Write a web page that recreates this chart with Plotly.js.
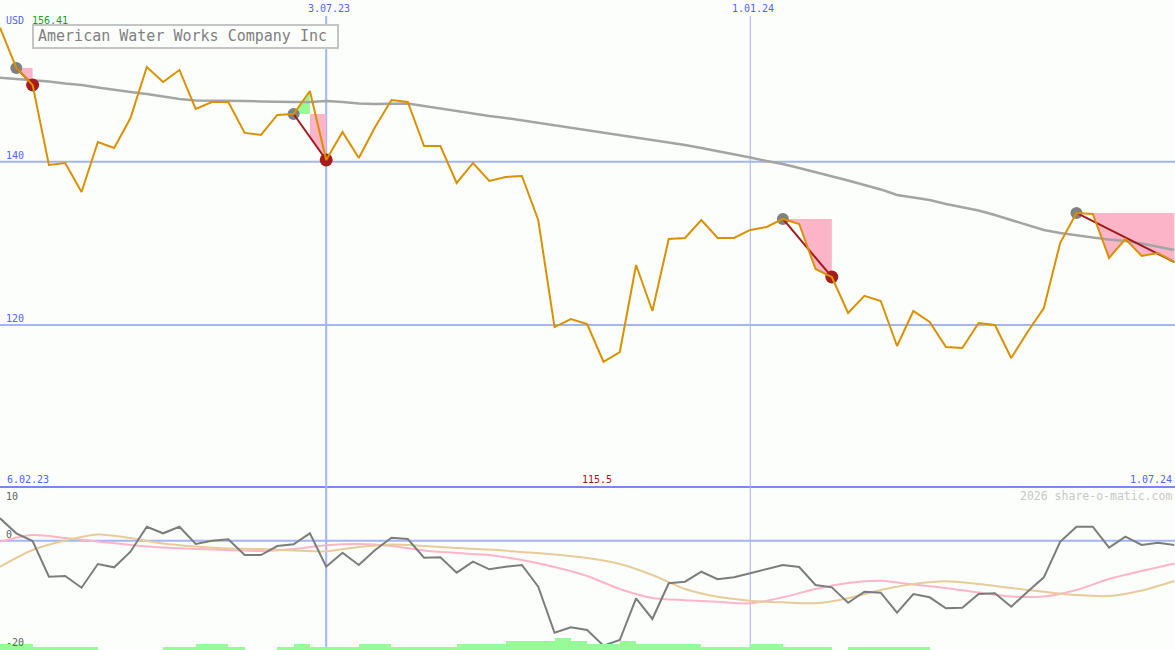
<!DOCTYPE html>
<html>
<head>
<meta charset="utf-8">
<script src="https://cdn.plot.ly/plotly-3.0.1.min.js"></script>
<style>html,body{margin:0;padding:0;background:#fcfefc;}#chart{width:1175px;height:650px;}</style>
</head>
<body>
<div id="chart"></div>
<script>
// ---- data (weekly) ----
const dates = [
 '2023-02-13','2023-02-20','2023-02-27','2023-03-06','2023-03-13','2023-03-20','2023-03-27','2023-04-03','2023-04-10','2023-04-17',
 '2023-04-24','2023-05-01','2023-05-08','2023-05-15','2023-05-22','2023-05-29','2023-06-05','2023-06-12','2023-06-19','2023-06-26',
 '2023-07-03','2023-07-10','2023-07-17','2023-07-24','2023-07-31','2023-08-07','2023-08-14','2023-08-21','2023-08-28','2023-09-04',
 '2023-09-11','2023-09-18','2023-09-25','2023-10-02','2023-10-09','2023-10-16','2023-10-23','2023-10-30','2023-11-06','2023-11-13',
 '2023-11-20','2023-11-27','2023-12-04','2023-12-11','2023-12-18','2023-12-25','2024-01-01','2024-01-08','2024-01-15','2024-01-22',
 '2024-01-29','2024-02-05','2024-02-12','2024-02-19','2024-02-26','2024-03-04','2024-03-11','2024-03-18','2024-03-25','2024-04-01',
 '2024-04-08','2024-04-15','2024-04-22','2024-04-29','2024-05-06','2024-05-13','2024-05-20','2024-05-27','2024-06-03','2024-06-10',
 '2024-06-17','2024-06-24','2024-07-01'];

const price = [
 156.41, 151.48, 149.39, 139.60, 139.84, 136.29, 142.41, 141.68, 145.35, 151.60,
 149.76, 151.23, 146.45, 147.31, 147.31, 143.52, 143.27, 145.72, 145.84, 148.66,
 140.21, 143.64, 140.45, 144.25, 147.56, 147.31, 141.92, 141.92, 137.39, 139.84,
 137.64, 138.13, 138.25, 132.86, 119.75, 120.73, 120.12, 115.50, 116.69, 127.35,
 121.71, 130.53, 130.66, 132.86, 130.66, 130.66, 131.64, 132.01, 132.99, 132.37,
 126.86, 125.88, 121.47, 123.56, 122.94, 117.43, 121.71, 120.37, 117.31, 117.19,
 120.25, 120.00, 115.96, 119.14, 122.08, 130.04, 133.72, 133.59, 128.21, 130.53,
 128.45, 128.82, 127.71];

const movingAvg = [
 150.29, 150.13, 150.01, 149.82, 149.58, 149.39, 149.09, 148.78, 148.54, 148.29,
 147.99, 147.68, 147.50, 147.50, 147.50, 147.43, 147.37, 147.31, 147.31, 147.31,
 147.43, 147.31, 147.13, 147.07, 147.13, 147.13, 146.82, 146.52, 146.21, 145.84,
 145.60, 145.35, 145.05, 144.74, 144.43, 144.13, 143.88, 143.58, 143.27, 142.96,
 142.66, 142.35, 142.05, 141.68, 141.31, 140.94, 140.51, 140.09, 139.72, 139.23,
 138.74, 138.25, 137.70, 137.15, 136.60, 135.92, 135.62, 135.31, 134.82, 134.39,
 134.02, 133.47, 132.86, 132.25, 131.63, 131.27, 130.96, 130.72, 130.47, 130.29,
 129.98, 129.61, 129.19];

const oscillator = [
 4.18, 1.38, -0.06, -6.71, -6.58, -8.76, -4.34, -4.96, -2.05, 2.61,
 1.38, 2.61, -0.62, 0.00, 0.26, -2.67, -2.67, -0.99, -0.67, 1.38,
 -4.85, -2.24, -4.53, -1.73, 0.56, 0.32, -3.17, -3.09, -5.96, -3.91,
 -5.33, -4.85, -4.53, -8.57, -17.15, -16.14, -16.64, -19.57, -18.51, -10.74,
 -14.59, -7.94, -7.64, -5.78, -7.19, -6.82, -6.08, -5.33, -4.53, -4.90,
 -8.26, -8.69, -11.56, -9.51, -9.69, -13.42, -9.93, -10.55, -12.60, -12.49,
 -9.93, -9.80, -12.30, -9.51, -6.82, -0.19, 2.61, 2.61, -1.30, 0.75,
 -0.80, -0.37, -0.80];

// smooth lines, read every second week
const pinkLine = [
 -0.19, 1.06, 0.50, -0.15, -0.80, -1.27, -1.55, -1.73, -1.92, -1.55,
 -0.86, -0.62, -0.99, -1.83, -2.29, -2.67, -3.60, -4.90, -6.58, -9.00,
 -10.68, -11.09, -11.37, -11.67, -10.55, -9.00, -7.88, -7.46, -8.16, -8.82,
 -9.66, -10.40, -10.40, -9.19, -7.14, -5.65, -4.25];
const tanLine = [
 -4.85, -1.73, 0.04, 1.16, 0.50, -0.52, -1.08, -1.45, -1.55, -1.83,
 -1.98, -1.17, -0.71, -0.99, -1.36, -1.64, -2.11, -2.57, -3.22, -4.34,
 -6.39, -9.00, -10.44, -11.17, -11.48, -11.65, -10.72, -9.19, -8.07, -7.55,
 -8.07, -8.82, -9.51, -10.12, -10.31, -9.28, -7.51];

const volumeLevels = [
 2,2,1,1,1,1,0,0,0,0,
 1,1,2,2,1,0,0,1,2,1,
 1,1,2,2,1,1,1,1,2,2,
 2,3,3,3,4,3,2,2,3,2,
 2,2,2,1,1,1,2,2,1,1,
 1,0,1,1,1,1,1,0,0,0,
 0,0,0,0,0,0,0,0,0,0,
 0,0,0];

const entryDates = ['2023-02-20','2023-06-19','2024-01-15','2024-05-20'];
const exitDates  = ['2023-02-27','2023-07-03','2024-02-05','2024-07-01'];
const exitClosed = [true, true, true, false];

const companyName = 'American Water Works Company Inc';
const currency = 'USD';
const firstPriceLabel = '156.41';
const minPriceLabel = '115.5';
const topDateLabels = ['2023-07-03','2024-01-01'];
const topDateText = ['3.07.23','1.01.24'];
const startLabel = '6.02.23';
const endLabel = '1.07.24';
const priceTicks = [140, 120];
const oscTicks = ['10','0','-20'];

// ---- build ----
const W = 1175, H = 650;
const px = x => x / W;
const py = y => 1 - y / H;
const splitY = py(487);

const smoothDates = dates.filter((d, i) => i % 2 === 0);

// trade fills
const gx = [], gy = [], rx = [], ry = [];
const trendTraces = [];
const entryX = [], entryY = [], exitX = [], exitY = [];
for (let t = 0; t < entryDates.length; t++) {
  const a = dates.indexOf(entryDates[t]);
  const b = dates.indexOf(exitDates[t]);
  const e = price[a];
  const trendAt = i => e + (price[b] - e) * (i - a) / (b - a);
  for (let i = a; i < b; i++) {
    if (price[i + 1] > e) {
      gx.push(dates[i], dates[i], dates[i + 1], dates[i + 1], null);
      gy.push(e, Math.max(price[i], e), price[i + 1], e, null);
    } else {
      const start = price[i] <= e ? price[i] : Math.min(trendAt(i), e);
      rx.push(dates[i], dates[i], dates[i + 1], dates[i + 1], null);
      ry.push(e, start, price[i + 1], e, null);
    }
  }
  trendTraces.push({x: [dates[a], dates[b]], y: [e, price[b]], mode: 'lines', type: 'scatter',
    line: {color: '#a01a1a', width: 2}, hoverinfo: 'skip'});
  entryX.push(dates[a]); entryY.push(e);
  if (exitClosed[t]) { exitX.push(dates[b]); exitY.push(price[b]); }
}

const traces = [
  {x: dates, y: volumeLevels, type: 'bar', yaxis: 'y3', width: 7 * 86400000, offset: 0,
   marker: {color: '#98fb98', line: {width: 0}}, hoverinfo: 'skip'},
  {x: smoothDates, y: pinkLine, yaxis: 'y2', mode: 'lines', type: 'scatter',
   line: {color: '#ffb4c8', width: 2, shape: 'spline', smoothing: 0.8}, hoverinfo: 'skip'},
  {x: smoothDates, y: tanLine, yaxis: 'y2', mode: 'lines', type: 'scatter',
   line: {color: '#e6cc98', width: 2, shape: 'spline', smoothing: 0.8}, hoverinfo: 'skip'},
  {x: dates, y: oscillator, yaxis: 'y2', mode: 'lines', type: 'scatter',
   line: {color: '#7c7c7c', width: 2}, hoverinfo: 'skip'},
  {x: rx, y: ry, mode: 'lines', type: 'scatter', fill: 'toself', fillcolor: '#fbb4c8',
   line: {width: 0, color: 'rgba(0,0,0,0)'}, hoverinfo: 'skip'},
  {x: gx, y: gy, mode: 'lines', type: 'scatter', fill: 'toself', fillcolor: '#98fb98',
   line: {width: 0, color: 'rgba(0,0,0,0)'}, hoverinfo: 'skip'},
  {x: dates, y: movingAvg, mode: 'lines', type: 'scatter',
   line: {color: '#a4a4a4', width: 2.5}, hoverinfo: 'skip'},
  {x: entryX, y: entryY, mode: 'markers', type: 'scatter',
   marker: {color: '#808080', size: 12}, hoverinfo: 'skip'},
  {x: exitX, y: exitY, mode: 'markers', type: 'scatter',
   marker: {color: '#a51c1c', size: 13}, hoverinfo: 'skip'},
  ...trendTraces,
  {x: dates, y: price, mode: 'lines', type: 'scatter',
   line: {color: '#d99100', width: 2}, hoverinfo: 'skip'}
];

const mono = 'DejaVu Sans Mono';
const blue = '#5064f8';
const gridBlue = '#a4b4f4';

function label(text, x, y, opts) {
  return Object.assign({text: text, xref: 'paper', yref: 'paper', x: px(x), y: py(y),
    xanchor: 'left', yanchor: 'middle', showarrow: false, borderpad: 0,
    font: {family: mono, size: 10, color: blue}}, opts || {});
}

const annotations = [
  label(currency, 5, 21),
  label(firstPriceLabel, 31, 21, {font: {family: mono, size: 10, color: '#1a9a1a'}}),
  label(companyName, 37, 36.5, {font: {family: mono, size: 15, color: '#808080'}}),
  label(startLabel, 6, 479),
  label(minPriceLabel, 597, 479, {xanchor: 'center', font: {family: mono, size: 10, color: '#a01818'}}),
  label(endLabel, 1173, 479, {xanchor: 'right'}),
  label('2026 share-o-matic.com', 1173, 496, {xanchor: 'right', font: {family: mono, size: 11.5, color: '#c8c8c8'}}),
  label(oscTicks[0], 5, 496, {font: {family: mono, size: 10, color: '#606060'}}),
  label(oscTicks[1], 5, 534, {font: {family: mono, size: 10, color: '#606060'}}),
  label(oscTicks[2], 5, 642, {font: {family: mono, size: 10, color: '#606060'}})
];
topDateLabels.forEach((d, i) => annotations.push({text: topDateText[i], xref: 'x', yref: 'paper', x: d,
  y: py(9), xanchor: 'center', yanchor: 'middle', xshift: 3, showarrow: false, borderpad: 0,
  font: {family: mono, size: 10, color: blue}}));
priceTicks.forEach(v => annotations.push({text: String(v), xref: 'paper', yref: 'y', x: px(5), y: v,
  xanchor: 'left', yanchor: 'middle', yshift: 6, showarrow: false, borderpad: 0,
  font: {family: mono, size: 10, color: blue}}));

const shapes = [];
priceTicks.forEach(v => shapes.push({type: 'line', xref: 'paper', yref: 'y', x0: 0, x1: 1, y0: v, y1: v,
  line: {color: gridBlue, width: 2}, layer: 'below'}));
shapes.push({type: 'line', xref: 'paper', yref: 'y2', x0: 0, x1: 1, y0: 0, y1: 0,
  line: {color: gridBlue, width: 2}, layer: 'below'});
shapes.push({type: 'line', xref: 'paper', yref: 'paper', x0: 0, x1: 1, y0: splitY, y1: splitY,
  line: {color: '#7888f0', width: 2}, layer: 'below'});
shapes.push({type: 'line', xref: 'x', yref: 'paper', x0: topDateLabels[0], x1: topDateLabels[0], y0: 0, y1: py(16),
  line: {color: gridBlue, width: 2}, layer: 'below'});
shapes.push({type: 'line', xref: 'x', yref: 'paper', x0: topDateLabels[1], x1: topDateLabels[1], y0: 0, y1: py(16),
  line: {color: '#a8b2e8', width: 1}, layer: 'below'});
shapes.push({type: 'rect', xref: 'paper', yref: 'paper', x0: px(33), x1: px(338), y0: py(48), y1: py(25),
  line: {color: '#c4c4c4', width: 2}, fillcolor: '#fcfefc', layer: 'above'});

const layout = {
  width: W, height: H,
  margin: {l: 0, r: 0, t: 0, b: 0, pad: 0},
  paper_bgcolor: '#fcfefc', plot_bgcolor: '#fcfefc',
  showlegend: false,
  bargap: 0,
  xaxis: {type: 'date', range: ['2023-02-13', '2024-07-01 07:00'], visible: false, fixedrange: true},
  yaxis: {domain: [splitY, 1], range: [100.16, 159.8], visible: false, fixedrange: true},
  yaxis2: {domain: [0, splitY], range: [-20.37, 10.01], visible: false, fixedrange: true},
  yaxis3: {overlaying: 'y2', range: [0, 52.6], visible: false, fixedrange: true},
  shapes: shapes,
  annotations: annotations
};

Plotly.newPlot('chart', traces, layout, {displayModeBar: false, staticPlot: true});
</script>
</body>
</html>
